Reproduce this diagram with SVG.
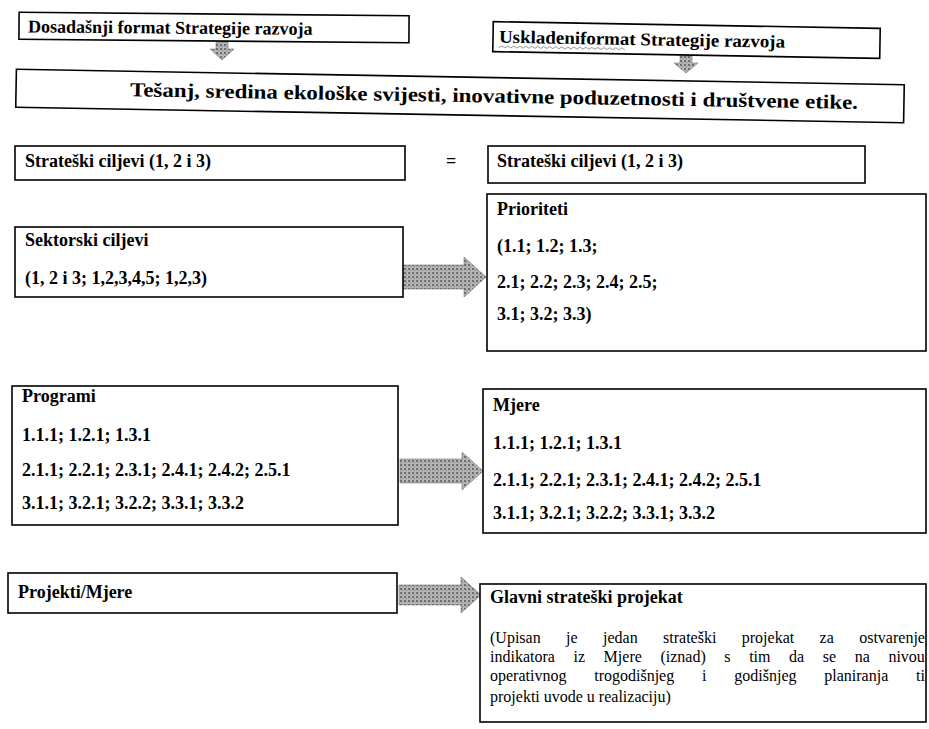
<svg xmlns="http://www.w3.org/2000/svg" width="929" height="729" viewBox="0 0 929 729">
<style>
.box{fill:#fff;stroke:#000;stroke-width:1.6}
.t{font-family:"Liberation Serif","Times New Roman",serif;font-weight:bold;font-size:18px;fill:#000}
.big{font-size:20px}
.p{font-family:"Liberation Serif","Times New Roman",serif;font-size:16px;fill:#000}
.arr{fill:url(#dots);stroke:#777;stroke-width:0.6}
</style>
<defs>
<pattern id="dots" width="4" height="4" patternUnits="userSpaceOnUse">
<rect width="4" height="4" fill="#b5b5b5"/>
<rect width="2" height="2" fill="#6e6e6e"/>
<rect x="2" y="2" width="1" height="1" fill="#8a8a8a"/>
</pattern>
</defs>
<rect width="929" height="729" fill="#fff"/>

<g id="connectors">
<path class="arr" d="M216,42 h12 v7 h6 l-12,11 l-12,-11 h6 z"/>
<path class="arr" d="M680,56 h12 v7 h6 l-12,10 l-12,-10 h6 z"/>
<text class="t" x="446" y="167">=</text>
<path class="arr" d="M401,265 h63 v-8 l22,20 l-22,20 v-8 h-63 z"/>
<path class="arr" d="M400,459 h62 v-7 l21,19 l-21,19 v-7 h-62 z"/>
<path class="arr" d="M399,585 h62 v-8 l20,18 l-20,18 v-8 h-62 z"/>
</g>

<g id="box-dosadasnji" transform="rotate(0.5 214 28)">
<rect class="box" x="19" y="14" width="390" height="27"/>
<text class="t" x="28" y="34">Dosadašnji format Strategije razvoja</text>
</g>

<g id="box-uskladeni" transform="rotate(1 686 40)">
<rect class="box" x="493" y="25" width="387" height="30"/>
<text class="t" x="499" y="46" textLength="286" lengthAdjust="spacingAndGlyphs">Uskladeniformat Strategije razvoja</text>
<path d="M499,51 l3,-2 l3,2 l3,-2 l3,2 l3,-2 l3,2 l3,-2 l3,2 l3,-2 l3,2 l3,-2 l3,2 l3,-2 l3,2 l3,-2 l3,2 l3,-2 l3,2 l3,-2 l3,2 l3,-2 l3,2 l3,-2 l3,2 l3,-2 l3,2 l3,-2 l3,2 l3,-2 l3,2 l3,-2 l3,2 l3,-2 l3,2 l3,-2 l3,2 l3,-2 l3,2 l3,-2 l3,2 l3,-2 l3,2" fill="none" stroke="#777" stroke-width="0.8"/>
</g>

<g id="box-vizija" transform="rotate(1 460 96)">
<rect class="box" x="16" y="77" width="888" height="38"/>
<text class="t big" x="130" y="102" textLength="728" lengthAdjust="spacingAndGlyphs">Tešanj, sredina ekološke svijesti, inovativne poduzetnosti i društvene etike.</text>
</g>

<g id="box-strateski-lijevo">
<rect class="box" x="15" y="146" width="390" height="34"/>
<text class="t" x="25" y="167">Strateški ciljevi (1, 2 i 3)</text>
</g>

<g id="box-strateski-desno">
<rect class="box" x="488" y="146" width="377" height="37"/>
<text class="t" x="497" y="167">Strateški ciljevi (1, 2 i 3)</text>
</g>

<g id="box-sektorski">
<rect class="box" x="15" y="227" width="388" height="70"/>
<text class="t" x="25" y="246">Sektorski ciljevi</text>
<text class="t" x="25" y="284">(1, 2 i 3; 1,2,3,4,5; 1,2,3)</text>
</g>

<g id="box-prioriteti">
<rect class="box" x="487" y="194" width="439" height="157"/>
<text class="t" x="497" y="215">Prioriteti</text>
<text class="t" x="497" y="252">(1.1; 1.2; 1.3;</text>
<text class="t" x="497" y="288">2.1; 2.2; 2.3; 2.4; 2.5;</text>
<text class="t" x="497" y="320">3.1; 3.2; 3.3)</text>
</g>

<g id="box-programi">
<rect class="box" x="12" y="386" width="386" height="139"/>
<text class="t" x="22" y="402">Programi</text>
<text class="t" x="22" y="441">1.1.1; 1.2.1; 1.3.1</text>
<text class="t" x="22" y="476">2.1.1; 2.2.1; 2.3.1; 2.4.1; 2.4.2; 2.5.1</text>
<text class="t" x="22" y="509">3.1.1; 3.2.1; 3.2.2; 3.3.1; 3.3.2</text>
</g>

<g id="box-mjere">
<rect class="box" x="483" y="389" width="443" height="144"/>
<text class="t" x="493" y="411">Mjere</text>
<text class="t" x="493" y="449">1.1.1; 1.2.1; 1.3.1</text>
<text class="t" x="493" y="486">2.1.1; 2.2.1; 2.3.1; 2.4.1; 2.4.2; 2.5.1</text>
<text class="t" x="493" y="519">3.1.1; 3.2.1; 3.2.2; 3.3.1; 3.3.2</text>
</g>

<g id="box-projekti">
<rect class="box" x="8" y="573" width="389" height="40"/>
<text class="t" x="18" y="598">Projekti/Mjere</text>
</g>

<g id="box-glavni">
<rect class="box" x="480" y="584" width="446" height="138"/>
<text class="t" x="490" y="603">Glavni strateški projekat</text>
<text class="p" x="490" y="643" word-spacing="21.4">(Upisan je jedan strateški projekat za ostvarenje</text>
<text class="p" x="490" y="662" word-spacing="14.6">indikatora iz Mjere (iznad) s tim da se na nivou</text>
<text class="p" x="490" y="681" word-spacing="23.8">operativnog trogodišnjeg i godišnjeg planiranja ti</text>
<text class="p" x="490" y="702">projekti uvode u realizaciju)</text>
</g>
</svg>
